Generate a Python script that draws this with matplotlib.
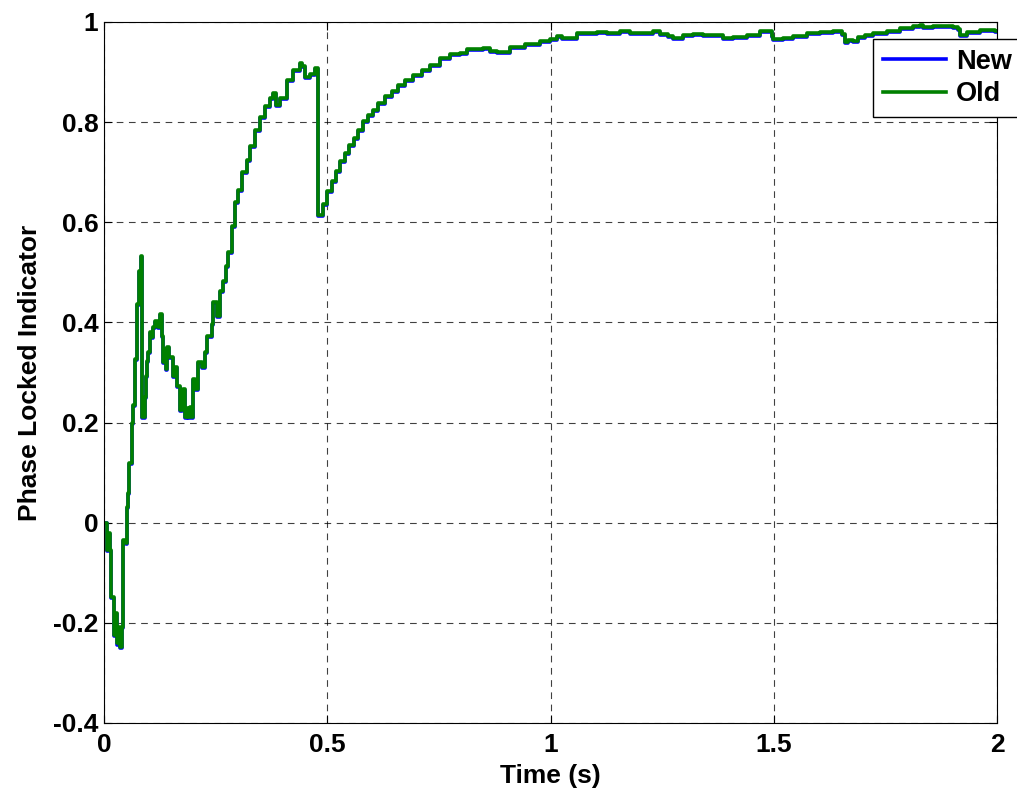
import matplotlib
matplotlib.use('Agg')
import matplotlib.pyplot as plt

# Time axis (s) shared by both traces
time_s = [
    0.000, 0.006, 0.0097, 0.0134, 0.0157, 0.0224, 0.0246, 0.0284, 0.032, 0.0358,
    0.0396, 0.042, 0.0433, 0.0493, 0.0508, 0.0545, 0.0567, 0.062, 0.0635, 0.0657,
    0.0694, 0.0732, 0.0747, 0.0784, 0.0821, 0.0843, 0.0859, 0.0918, 0.0933, 0.0955,
    0.0993, 0.103, 0.1067, 0.1105, 0.1142, 0.1217, 0.1254, 0.1292, 0.1329, 0.1366,
    0.1389, 0.1419, 0.1456, 0.1553, 0.159, 0.1628, 0.1702, 0.174, 0.1777, 0.1814,
    0.1866, 0.1889, 0.1926, 0.1964, 0.1986, 0.2038, 0.2113, 0.2188, 0.2262, 0.23,
    0.2412, 0.2449, 0.2524, 0.2598, 0.2672, 0.2732, 0.2784, 0.286, 0.2934, 0.3008,
    0.3084, 0.3196, 0.327, 0.3382, 0.3494, 0.3606, 0.3718, 0.3785, 0.3852, 0.3942,
    0.4092, 0.4233, 0.439, 0.4428, 0.4502, 0.4614, 0.4726, 0.4786, 0.4898, 0.4988,
    0.51, 0.5189, 0.5286, 0.5398, 0.5494, 0.5599, 0.5695, 0.5807, 0.5919, 0.6031,
    0.6143, 0.6293, 0.6443, 0.6591, 0.6741, 0.6927, 0.7115, 0.7301, 0.7525, 0.7749,
    0.7973, 0.8123, 0.8495, 0.8645, 0.8802, 0.9093, 0.9429, 0.9765, 0.9989, 1.0139,
    1.0251, 1.0587, 1.1035, 1.1259, 1.1557, 1.178, 1.2302, 1.2452, 1.2638, 1.275,
    1.2974, 1.3198, 1.3422, 1.3646, 1.387, 1.4094, 1.4394, 1.4692, 1.4842, 1.4954,
    1.499, 1.5214, 1.5438, 1.5738, 1.6036, 1.6334, 1.6446, 1.6521, 1.6596, 1.667,
    1.6782, 1.6894, 1.7044, 1.723, 1.753, 1.7828, 1.8126, 1.8275, 1.835, 1.8574,
    1.9021, 1.9133, 1.9171, 1.9321, 1.9619, 1.9955, 2.000,
]

# "Old" indicator values
old_vals = [
    0.000, -0.054, -0.020, -0.054, -0.148, -0.224, -0.180, -0.240, -0.208, -0.248,
    -0.208, -0.154, -0.034, -0.040, 0.032, 0.060, 0.120, 0.146, 0.200, 0.236,
    0.326, 0.366, 0.436, 0.502, 0.532, 0.520, 0.212, 0.252, 0.292, 0.322,
    0.340, 0.380, 0.370, 0.390, 0.402, 0.390, 0.416, 0.372, 0.320, 0.346,
    0.306, 0.350, 0.330, 0.292, 0.310, 0.272, 0.226, 0.240, 0.266, 0.212,
    0.230, 0.212, 0.232, 0.212, 0.286, 0.266, 0.320, 0.310, 0.340, 0.372,
    0.396, 0.440, 0.412, 0.462, 0.482, 0.512, 0.540, 0.592, 0.640, 0.665,
    0.700, 0.725, 0.752, 0.785, 0.810, 0.832, 0.849, 0.859, 0.835, 0.848,
    0.885, 0.905, 0.919, 0.912, 0.891, 0.897, 0.909, 0.615, 0.637, 0.662,
    0.682, 0.702, 0.722, 0.739, 0.755, 0.769, 0.785, 0.802, 0.815, 0.825,
    0.839, 0.852, 0.862, 0.875, 0.885, 0.895, 0.905, 0.915, 0.928, 0.935,
    0.937, 0.945, 0.948, 0.942, 0.940, 0.949, 0.955, 0.962, 0.966, 0.972,
    0.968, 0.977, 0.980, 0.978, 0.981, 0.978, 0.981, 0.976, 0.972, 0.967,
    0.973, 0.976, 0.973, 0.973, 0.968, 0.969, 0.974, 0.981, 0.982, 0.972,
    0.966, 0.967, 0.972, 0.977, 0.979, 0.981, 0.982, 0.975, 0.960, 0.964,
    0.961, 0.969, 0.973, 0.977, 0.982, 0.987, 0.991, 0.994, 0.990, 0.991,
    0.989, 0.986, 0.973, 0.979, 0.984, 0.982, 0.982,
]

# "New" indicator values (almost on top of Old, a touch lower in places)
new_vals = [
    0.000, -0.056, -0.022, -0.056, -0.150, -0.226, -0.182, -0.244, -0.210, -0.250,
    -0.210, -0.156, -0.036, -0.042, 0.030, 0.058, 0.118, 0.144, 0.198, 0.234,
    0.324, 0.364, 0.434, 0.500, 0.530, 0.518, 0.210, 0.250, 0.290, 0.320,
    0.338, 0.378, 0.368, 0.388, 0.400, 0.388, 0.414, 0.370, 0.318, 0.344,
    0.304, 0.348, 0.328, 0.290, 0.308, 0.270, 0.224, 0.238, 0.264, 0.210,
    0.228, 0.210, 0.230, 0.210, 0.284, 0.264, 0.318, 0.308, 0.338, 0.370,
    0.394, 0.438, 0.410, 0.460, 0.480, 0.510, 0.538, 0.590, 0.638, 0.663,
    0.698, 0.723, 0.750, 0.783, 0.808, 0.830, 0.847, 0.857, 0.833, 0.846,
    0.883, 0.903, 0.917, 0.910, 0.889, 0.895, 0.907, 0.613, 0.635, 0.660,
    0.680, 0.700, 0.720, 0.737, 0.753, 0.767, 0.783, 0.800, 0.813, 0.823,
    0.837, 0.850, 0.860, 0.873, 0.883, 0.893, 0.903, 0.913, 0.926, 0.933,
    0.935, 0.943, 0.946, 0.940, 0.938, 0.947, 0.953, 0.960, 0.964, 0.970,
    0.966, 0.975, 0.978, 0.976, 0.979, 0.976, 0.979, 0.974, 0.970, 0.965,
    0.971, 0.974, 0.971, 0.971, 0.966, 0.967, 0.972, 0.979, 0.980, 0.970,
    0.964, 0.965, 0.970, 0.975, 0.977, 0.979, 0.980, 0.973, 0.958, 0.962,
    0.959, 0.967, 0.971, 0.975, 0.980, 0.985, 0.989, 0.992, 0.988, 0.989,
    0.987, 0.984, 0.971, 0.977, 0.982, 0.980, 0.980,
]

x_ticks = [0, 0.5, 1, 1.5, 2]
x_ticklabels = ['0', '0.5', '1', '1.5', '2']
y_ticks = [-0.4, -0.2, 0, 0.2, 0.4, 0.6, 0.8, 1]
y_ticklabels = ['-0.4', '-0.2', '0', '0.2', '0.4', '0.6', '0.8', '1']

plt.rcParams['font.family'] = ['Liberation Sans', 'DejaVu Sans']
plt.rcParams['font.weight'] = 'bold'
FS = 19

fig = plt.figure(figsize=(10.17, 7.98), dpi=100)
ax = fig.add_axes([0.1023, 0.094, 0.878, 0.8785])

ax.plot(time_s, new_vals, color=(0, 0, 1), lw=2.6, drawstyle='steps-post', label='New')
ax.plot(time_s, old_vals, color=(0, 0.5, 0), lw=2.6, drawstyle='steps-post', label='Old')

ax.set_xlim(0, 2)
ax.set_ylim(-0.4, 1)
ax.set_xticks(x_ticks)
ax.set_xticklabels(x_ticklabels, fontsize=FS, fontweight='bold')
ax.set_yticks(y_ticks)
ax.set_yticklabels(y_ticklabels, fontsize=FS, fontweight='bold')
ax.tick_params(direction='in', length=6, width=0.8, top=True, right=True)
ax.tick_params(axis='x', pad=7)
ax.tick_params(axis='y', pad=4)

ax.grid(True, color='k', linestyle=(0, (6, 5)), lw=0.8, alpha=0.75)
for sp in ax.spines.values():
    sp.set_linewidth(0.8)

ax.set_xlabel('Time (s)', fontsize=FS, fontweight='bold')
ax.set_ylabel('Phase Locked Indicator', fontsize=FS, fontweight='bold')
ax.xaxis.set_label_coords(0.5, -0.058)
ax.yaxis.set_label_coords(-0.069, 0.5)

# legend box starts inside the axes and runs past the right edge of the figure
leg = ax.legend(loc='upper left', bbox_to_anchor=(0.861, 0.976),
                prop={'weight': 'bold', 'size': 19.5}, handlelength=2.35,
                handletextpad=0.35, labelspacing=0.25, borderpad=0.36,
                fancybox=False, framealpha=1, borderaxespad=0)
leg.get_frame().set_edgecolor('k')
leg.get_frame().set_linewidth(1.0)
for line in leg.get_lines():
    line.set_linewidth(2.6)

fig.savefig('out.png', dpi=100)
